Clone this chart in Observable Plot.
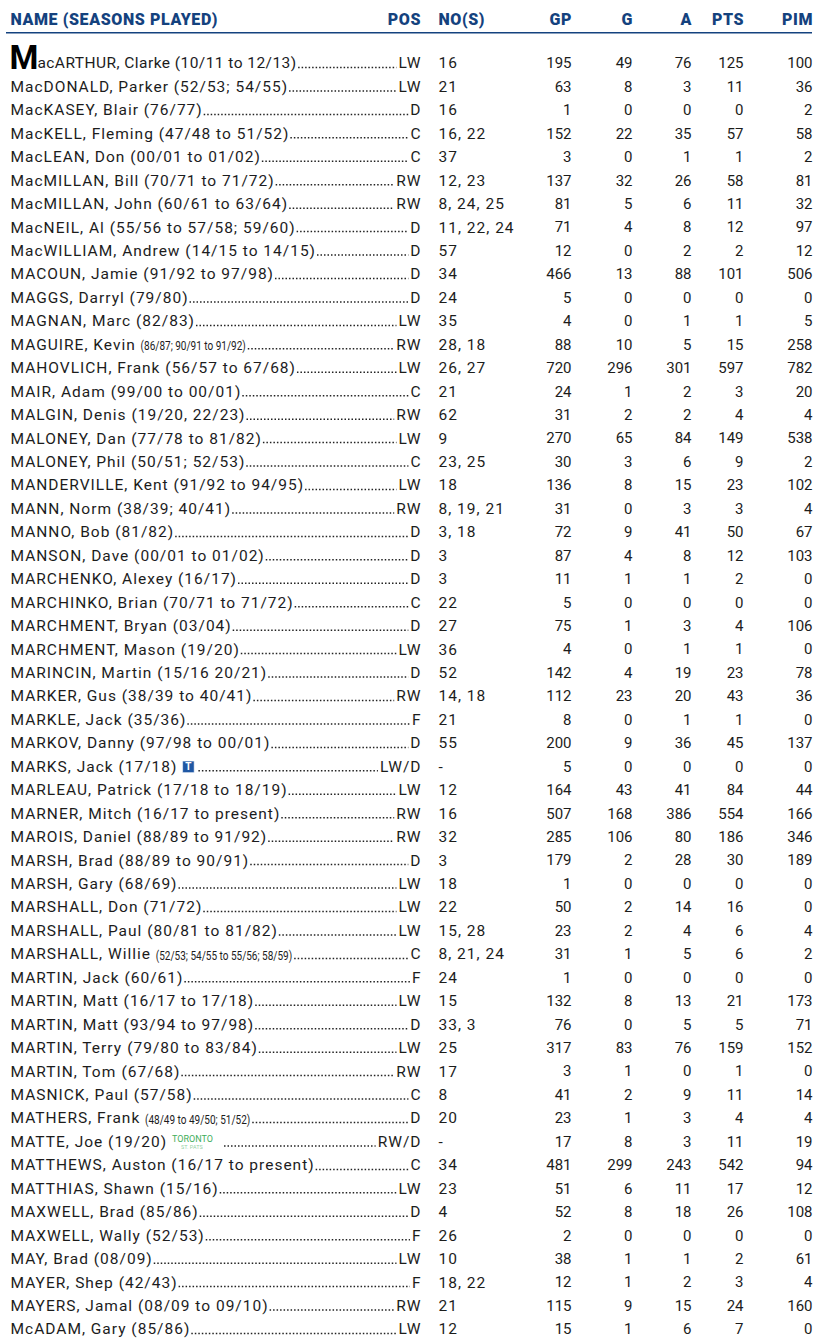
<!DOCTYPE html>
<html><head><meta charset="utf-8">
<script src="https://cdn.jsdelivr.net/npm/d3@7"></script>
<script src="https://cdn.jsdelivr.net/npm/@observablehq/plot@0.6"></script>
<style>html,body{margin:0;padding:0;background:#fff}#chart svg{display:block}</style>
</head><body><div id="chart"></div>
<script>
// ---------- data ----------
const headers = ["NAME (SEASONS PLAYED)", "POS", "NO(S)", "GP", "G", "A", "PTS", "PIM"];
const names = ["MacARTHUR, Clarke","MacDONALD, Parker","MacKASEY, Blair","MacKELL, Fleming","MacLEAN, Don","MacMILLAN, Bill","MacMILLAN, John","MacNEIL, Al","MacWILLIAM, Andrew","MACOUN, Jamie","MAGGS, Darryl","MAGNAN, Marc","MAGUIRE, Kevin","MAHOVLICH, Frank","MAIR, Adam","MALGIN, Denis","MALONEY, Dan","MALONEY, Phil","MANDERVILLE, Kent","MANN, Norm","MANNO, Bob","MANSON, Dave","MARCHENKO, Alexey","MARCHINKO, Brian","MARCHMENT, Bryan","MARCHMENT, Mason","MARINCIN, Martin","MARKER, Gus","MARKLE, Jack","MARKOV, Danny","MARKS, Jack","MARLEAU, Patrick","MARNER, Mitch","MAROIS, Daniel","MARSH, Brad","MARSH, Gary","MARSHALL, Don","MARSHALL, Paul","MARSHALL, Willie","MARTIN, Jack","MARTIN, Matt","MARTIN, Matt","MARTIN, Terry","MARTIN, Tom","MASNICK, Paul","MATHERS, Frank","MATTE, Joe","MATTHEWS, Auston","MATTHIAS, Shawn","MAXWELL, Brad","MAXWELL, Wally","MAY, Brad","MAYER, Shep","MAYERS, Jamal","McADAM, Gary"];
const seasons = ["(10/11 to 12/13)","(52/53; 54/55)","(76/77)","(47/48 to 51/52)","(00/01 to 01/02)","(70/71 to 71/72)","(60/61 to 63/64)","(55/56 to 57/58; 59/60)","(14/15 to 14/15)","(91/92 to 97/98)","(79/80)","(82/83)","(86/87; 90/91 to 91/92)","(56/57 to 67/68)","(99/00 to 00/01)","(19/20, 22/23)","(77/78 to 81/82)","(50/51; 52/53)","(91/92 to 94/95)","(38/39; 40/41)","(81/82)","(00/01 to 01/02)","(16/17)","(70/71 to 71/72)","(03/04)","(19/20)","(15/16 20/21)","(38/39 to 40/41)","(35/36)","(97/98 to 00/01)","(17/18)","(17/18 to 18/19)","(16/17 to present)","(88/89 to 91/92)","(88/89 to 90/91)","(68/69)","(71/72)","(80/81 to 81/82)","(52/53; 54/55 to 55/56; 58/59)","(60/61)","(16/17 to 17/18)","(93/94 to 97/98)","(79/80 to 83/84)","(67/68)","(57/58)","(48/49 to 49/50; 51/52)","(19/20)","(16/17 to present)","(15/16)","(85/86)","(52/53)","(08/09)","(42/43)","(08/09 to 09/10)","(85/86)"];
const positions = ["LW","LW","D","C","C","RW","RW","D","D","D","D","LW","RW","LW","C","RW","LW","C","LW","RW","D","D","D","C","D","LW","D","RW","F","D","LW/D","LW","RW","RW","D","LW","LW","LW","C","F","LW","D","LW","RW","C","D","RW/D","C","LW","D","F","LW","F","RW","LW"];
const numbers = ["16","21","16","16, 22","37","12, 23","8, 24, 25","11, 22, 24","57","34","24","35","28, 18","26, 27","21","62","9","23, 25","18","8, 19, 21","3, 18","3","3","22","27","36","52","14, 18","21","55","-","12","16","32","3","18","22","15, 28","8, 21, 24","24","15","33, 3","25","17","8","20","-","34","23","4","26","10","18, 22","21","12"];
const gp = [195,63,1,152,3,137,81,71,12,466,5,4,88,720,24,31,270,30,136,31,72,87,11,5,75,4,142,112,8,200,5,164,507,285,179,1,50,23,31,1,132,76,317,3,41,23,17,481,51,52,2,38,12,115,15];
const goals = [49,8,0,22,0,32,5,4,0,13,0,0,10,296,1,2,65,3,8,0,9,4,1,0,1,0,4,23,0,9,0,43,168,106,2,0,2,2,1,0,8,0,83,1,2,1,8,299,6,8,0,1,1,9,1];
const assists = [76,3,0,35,1,26,6,8,2,88,0,1,5,301,2,2,84,6,15,3,41,8,1,0,3,1,19,20,1,36,0,41,386,80,28,0,14,4,5,0,13,5,76,0,9,3,3,243,11,18,0,1,2,15,6];
const points = [125,11,0,57,1,58,11,12,2,101,0,1,15,597,3,4,149,9,23,3,50,12,2,0,4,1,23,43,1,45,0,84,554,186,30,0,16,6,6,0,21,5,159,1,11,4,11,542,17,26,0,2,3,24,7];
const pim = [100,36,2,58,2,81,32,97,12,506,0,5,258,782,20,4,538,2,102,4,67,103,0,0,106,0,78,36,0,137,0,44,166,346,189,0,0,4,2,0,173,71,152,0,14,4,19,94,12,108,0,61,4,160,0];
const smallSeasonRows = [12, 38, 45];           // seasons printed in small type
const logoRows = [30, 46];                       // rows followed by a team logo
const logoKinds = ["leafs", "stpats"];
const stPatsText = ["TORONTO", "ST. PATS"];

// ---------- layout ----------
const W = 815, H = 1338;
const FONT = "Roboto";
const FS = 15.5, NUM_FS = 15;
const LS = 1.0, LS_FIRST = 0.45, HEAD_LS = 0.6;
const nameInk = "#1c1c1c", seasonInk = "#1c1c1e", posInk = "#1c1d1c", numInk = "#1c1c1b";
const blue = "#14427f", headBlue = "#14427e";
const green = "#3fae5c";
const SMALL_FS = 12.5, SQUEEZE = 0.8, SMALL_FILL = "#1c1c1d";
const nameLeft = 10, noLeft = 438;
const right = {pos: 420, gp: 571, g: 632, a: 691, pts: 743, pim: 812};
const headerX = [nameLeft, right.pos, noLeft, right.gp, right.g, right.a, right.pts, right.pim];
const headerAnchor = ["start", "end", "start", "end", "end", "end", "end", "end"];
const headerRow = -1.87, ruleRow = -1.31;

const ctx = document.createElement("canvas").getContext("2d");
const measure = (t, size, weight = "normal") => { ctx.font = `${weight} ${size}px ${FONT}`; return ctx.measureText(t).width; };
const tracked = (t, ls, size = FS) => measure(t, size) + ls * t.length;

const BIG_FS = 33;
const bigM = names[0][0];
const bigMW = measure(bigM, BIG_FS, "bold") - 2;

const rows = names.map((name, i) => {
  const drop = i === 0;
  const ls = drop ? LS_FIRST : LS;
  const nameText = drop ? name.slice(1) : name;
  const nameX = nameLeft + (drop ? bigMW : 0);
  const seasonX = nameX + tracked(nameText + " ", ls);
  const small = smallSeasonRows.includes(i);
  const seasonW = small ? measure(seasons[i], SMALL_FS) * SQUEEZE : tracked(seasons[i], ls) - ls;
  const li = logoRows.indexOf(i);
  const logo = li >= 0 ? logoKinds[li] : null;
  const logoX = seasonX + seasonW + 6;
  const logoW = logo === "leafs" ? 12 : logo === "stpats" ? 48 : 0;
  const dotStart = seasonX + seasonW + (logo ? logoW + 8 : 0) + 2.5;
  const dotEnd = right.pos - (tracked(positions[i], LS) - LS) - 1.5;
  return {i, ls, nameText, nameX, seasonX, seasonW, small, logo, logoX, logoW, dotStart, dotEnd,
          season: seasons[i], pos: positions[i], no: numbers[i],
          gp: gp[i], g: goals[i], a: assists[i], pts: points[i], pim: pim[i]};
});
const header = headers.map((label, k) => ({label, x: headerX[k], anchor: headerAnchor[k]}));
const smallRows = rows.filter(d => d.small);
const bigRows = rows.filter(d => !d.small);
const leafs = rows.filter(d => d.logo === "leafs");
const pats = rows.filter(d => d.logo === "stpats");

const txt = {fontFamily: FONT, fontSize: FS, lineAnchor: "middle"};
const numCol = (key) => Plot.text(rows, {fontFamily: FONT, fontSize: NUM_FS, fill: numInk, lineAnchor: "middle", x: right[key], y: "i", text: d => String(d[key]), textAnchor: "end"});
const headOpts = {x: "x", y: () => headerRow, text: "label", fontFamily: FONT, fontSize: 16, fontWeight: 900, fill: headBlue, lineAnchor: "middle"};

const plot = Plot.plot({
  width: W, height: H,
  margin: 0,
  x: {type: "linear", domain: [0, W], range: [0, W], axis: null},
  y: {type: "linear", domain: [0, names.length - 1], range: [63, 1329], axis: null},
  style: {background: "#fff"},
  marks: [
    // header
    Plot.text(header.filter(d => d.anchor === "start"), {...headOpts, textAnchor: "start"}),
    Plot.text(header.filter(d => d.anchor === "end"), {...headOpts, textAnchor: "end", dx: HEAD_LS}),
    Plot.ruleY([ruleRow], {x1: 6, x2: 812, stroke: blue, strokeWidth: 1.6}),
    // leaders
    Plot.ruleY(rows, {y: "i", x1: "dotStart", x2: "dotEnd", stroke: "#222", strokeWidth: 1.5, strokeDasharray: "1.5,2", dy: 4}),
    // drop cap
    Plot.text(rows.filter(d => d.i === 0), {x: nameLeft, y: "i", text: () => bigM, fontFamily: FONT, fontSize: BIG_FS, fontWeight: "bold", fill: "#000", textAnchor: "start", lineAnchor: "middle", dx: -1, dy: -5.5}),
    // names
    Plot.text(rows, {...txt, fill: nameInk, x: "nameX", y: "i", text: "nameText", textAnchor: "start"}),
    Plot.text(bigRows, {...txt, fill: seasonInk, x: "seasonX", y: "i", text: "season", textAnchor: "start"}),
    Plot.text(smallRows, {...txt, fontSize: SMALL_FS, fill: SMALL_FILL, x: "seasonX", y: "i", text: "season", textAnchor: "start", dy: 1.2}),
    // logos
    Plot.dot(leafs, {x: d => d.logoX + d.logoW / 2, y: "i", symbol: "square", r: 6.5, fill: "#1f57a4", stroke: "#fff", strokeWidth: 0.5}),
    Plot.text(leafs, {x: d => d.logoX + d.logoW / 2, y: "i", text: () => "T", fontFamily: FONT, fontSize: 10, fontWeight: "bold", fill: "#fff", lineAnchor: "middle"}),
    Plot.text(pats, {x: d => d.logoX, y: "i", text: () => stPatsText[0], fontFamily: FONT, fontSize: 9, fill: green, textAnchor: "start", lineAnchor: "middle", dy: -2.5}),
    Plot.text(pats, {x: d => d.logoX + 9, y: "i", text: () => stPatsText[1], fontFamily: FONT, fontSize: 5.5, fill: green, fillOpacity: 0.6, textAnchor: "start", lineAnchor: "middle", dy: 5}),
    // position & numbers
    Plot.text(rows, {...txt, fill: posInk, x: right.pos, y: "i", text: "pos", textAnchor: "end", dx: LS}),
    Plot.text(rows, {...txt, fill: posInk, x: noLeft, y: "i", text: "no", textAnchor: "start"}),
    numCol("gp"), numCol("g"), numCol("a"), numCol("pts"), numCol("pim")
  ]
});

const svg = d3.select(plot);
svg.selectAll(`g[fill="${nameInk}"] text`).style("letter-spacing", (_, k) => `${rows[k].ls}px`);
svg.selectAll(`g[fill="${seasonInk}"] text`).style("letter-spacing", (_, k) => `${bigRows[k].ls}px`);
svg.selectAll(`g[fill="${posInk}"] text`).style("letter-spacing", `${LS}px`);
svg.selectAll(`g[fill="${headBlue}"] text`).style("letter-spacing", `${HEAD_LS}px`);
svg.selectAll(`g[fill="${SMALL_FILL}"] text`)
  .attr("textLength", (_, k) => smallRows[k].seasonW)
  .attr("lengthAdjust", "spacingAndGlyphs");

document.getElementById("chart").append(plot);
</script>
</body></html>
